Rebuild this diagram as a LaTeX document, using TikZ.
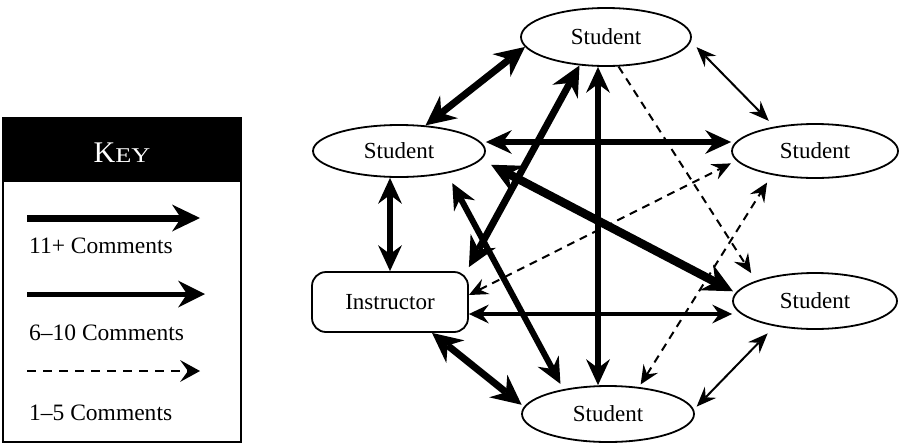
\documentclass[tikz,border=0pt]{standalone}
\usepackage{fontspec}
\setmainfont{Liberation Serif}
\usepackage{graphicx}
\usetikzlibrary{arrows.meta,shapes.geometric}
\tikzset{
  bigtip/.tip={Stealth[length=30pt,width=29pt,inset=10pt,line width=0pt]},
  midtip/.tip={Stealth[length=26pt,width=24pt,inset=9pt,line width=0pt]},
  smalltip/.tip={Stealth[length=20pt,width=19pt,inset=7pt,line width=0pt]},
  thintip/.tip={Stealth[length=20pt,width=16pt,inset=7pt,line width=0pt]},
  dashtip/.tip={Stealth[length=19pt,width=17pt,inset=7pt,line width=0pt]},
  keydashtip/.tip={Stealth[length=20pt,width=22pt,inset=8pt,line width=0pt]},
  student/.style={ellipse,draw,line width=1.8pt,inner sep=0pt},
  teacher/.style={rectangle,draw,line width=1.8pt,rounded corners=14pt,inner sep=0pt,
    minimum width=156pt,minimum height=60pt},
  dashedge/.style={line width=2pt,dash pattern=on 8pt off 6pt},
  thinedge/.style={line width=2pt,thintip-thintip},
  keytext/.style={anchor=base west,inner sep=0pt},
}
\begin{document}
\begin{tikzpicture}[x=1pt,y=-1pt,every node/.style={font=\fontsize{23}{27}\selectfont}]
\useasboundingbox (0,0) rectangle (904,445);

% legend box
\fill[black] (3,118) rectangle (241,182);
\draw[line width=2.5pt] (3,118) rectangle (241,442);
\node[anchor=base,text=white,inner sep=0pt] (keytitle) at (122,162)
  {\fontsize{30}{30}\selectfont K\fontsize{21}{24}\selectfont\scalebox{1.25}[1]{EY}};
\coordinate (k1s) at (27,218);  \coordinate (k1e) at (200,218);
\coordinate (k2s) at (27,294);  \coordinate (k2e) at (205,294);
\coordinate (k3s) at (27,371);  \coordinate (k3e) at (200,371);
\draw[line width=7pt,-{Stealth[length=28pt,width=27pt,inset=9pt,line width=0pt]}] (k1s) -- (k1e);
\draw[line width=5pt,-{Stealth[length=27pt,width=27pt,inset=9pt,line width=0pt]}] (k2s) -- (k2e);
\draw[line width=2pt,dash pattern=on 9pt off 7pt,-keydashtip] (k3s) -- (k3e);
\node[keytext] (k1t) at (29,253) {\fontsize{23.5}{27}\selectfont 11+ Comments};
\node[keytext] (k2t) at (29,340) {\fontsize{23.5}{27}\selectfont 6–10 Comments};
\node[keytext] (k3t) at (29,420) {\fontsize{23.5}{27}\selectfont 1–5 Comments};

% participants
\node[student,minimum width=170pt,minimum height=58pt] (T)  at (606,37)  {Student};
\node[student,minimum width=172pt,minimum height=52pt] (L)  at (399,151) {Student};
\node[student,minimum width=166pt,minimum height=54pt] (R)  at (815,151) {Student};
\node[student,minimum width=164pt,minimum height=56pt] (RL) at (815,301) {Student};
\node[student,minimum width=172pt,minimum height=56pt] (B)  at (608,414) {Student};
\node[teacher] (I) at (390,302) {Instructor};

% exchanges
\draw[line width=7pt,bigtip-bigtip] (L.44) -- (T.187);
\draw[thinedge,shorten <=8pt,shorten >=8pt] (T.357) -- (R.149);
\draw[line width=5.5pt,midtip-midtip] ([yshift=9pt]L.east) -- ([yshift=9pt]R.west);
\draw[line width=6pt,midtip-midtip] (I.north |- L.south) -- (I.north);
\draw[line width=7pt,bigtip-bigtip] ([yshift=4pt]I.north east) -- (T.227);
\draw[line width=5.5pt,midtip-midtip] ([xshift=-8pt]T.south) -- ([xshift=-8pt]T.south |- B.north);
\draw[dashedge,-dashtip,shorten >=9pt] (T.293) -- (RL.161);
\draw[line width=8.5pt,bigtip-bigtip,shorten <=11pt,shorten >=3pt] (L.354) -- (RL.174);
\draw[line width=6pt,midtip-midtip,shorten <=11pt,shorten >=6pt] (L.335) -- (B.151);
\draw[dashedge,dashtip-dashtip,shorten >=6pt] ([yshift=7pt]I.east) -- (R.187);
\draw[line width=4pt,smalltip-smalltip] ([yshift=-12pt]I.east) -- ([yshift=-13pt]RL.west);
\draw[line width=7pt,bigtip-bigtip,shorten >=3pt] ([xshift=42pt]I.south) -- (B.175);
\draw[thinedge,shorten <=4pt,shorten >=10pt] (B.3) -- (RL.212);
\draw[dashedge,dashtip-dashtip,shorten <=3pt,shorten >=9pt] (B.41) -- (R.209);
\end{tikzpicture}
\end{document}
